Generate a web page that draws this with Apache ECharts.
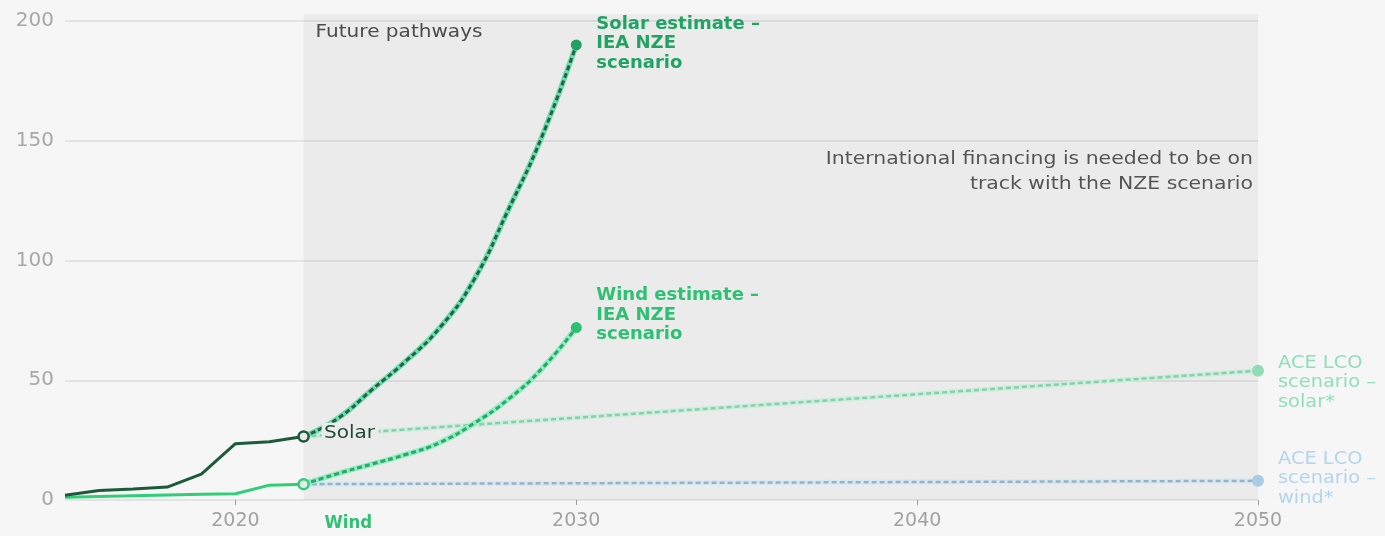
<!DOCTYPE html>
<html>
<head>
<meta charset="utf-8">
<title>Solar and wind capacity pathways</title>
<script src="https://cdn.jsdelivr.net/npm/echarts@6/dist/echarts.min.js"></script>
<style>
  html, body { margin: 0; padding: 0; background: #f6f6f6; }
  #chart { width: 1385px; height: 536px; }
</style>
</head>
<body>
<div id="chart"></div>
<script>
// Historical installed capacity
const histYears = [2015, 2016, 2017, 2018, 2019, 2020, 2021, 2022];
const solarHistory = [2, 4, 4.6, 5.4, 10.8, 23.5, 24.3, 26.5];
const windHistory = [1.2, 1.5, 1.8, 2.1, 2.4, 2.6, 6.2, 6.6];

// IEA NZE scenario estimates
const nzeYears = [2022, 2023, 2024, 2025, 2026, 2027, 2028, 2029, 2030];
const solarNZE = [26.5, 34, 46, 58, 72, 92, 121, 152, 190];
const windNZE = [6.6, 11, 15, 19, 24, 32, 42, 55, 72];

// ACE LCO scenario
const aceYears = [2022, 2050];
const aceSolar = [26.5, 54];
const aceWind = [6.6, 8];

// Axis ticks
const xTickYears = [2020, 2030, 2040, 2050];
const futureStart = 2022;
const futureEnd = 2050;

const FONT = '"DejaVu Sans", sans-serif';
const pairs = (xs, ys) => xs.map((x, i) => [x, ys[i]]);
const last = (xs, ys) => [[xs[xs.length - 1], ys[ys.length - 1]]];

const chart = echarts.init(document.getElementById('chart'), null, { renderer: 'canvas' });

function lineSeries(name, data, color, width, dashed, smooth, z) {
  return {
    name, type: 'line', data, z,
    symbol: 'none', smooth: smooth,
    silent: true, animation: false,
    lineStyle: { color, width, type: dashed ? [5, 3] : 'solid', cap: 'butt' }
  };
}

function dotSeries(name, data, fill, size, border, borderWidth, z) {
  return {
    name, type: 'scatter', data, z, symbol: 'circle', symbolSize: size,
    silent: true, animation: false,
    itemStyle: { color: fill, borderColor: border || fill, borderWidth: borderWidth || 0, opacity: 1 }
  };
}

const option = {
  backgroundColor: '#f6f6f6',
  animation: false,
  grid: { left: 65, right: 127, top: 21, bottom: 36, containLabel: false },
  xAxis: {
    type: 'value', min: 2015, max: 2050,
    axisLine: { show: false },
    splitLine: { show: false },
    axisTick: { show: true, customValues: xTickYears, length: 5, lineStyle: { color: '#9a9a9a', width: 1 } },
    axisLabel: {
      customValues: xTickYears, color: '#a2a2a2', fontFamily: FONT, fontSize: 19, margin: 12,
      formatter: v => String(v)
    }
  },
  yAxis: {
    type: 'value', min: 0, max: 200, interval: 50,
    axisLine: { show: false },
    axisTick: { show: false },
    splitLine: { lineStyle: { color: '#dddddd', width: 1.5 } },
    axisLabel: { color: '#a8a8a8', fontFamily: FONT, fontSize: 20, margin: 11 }
  },
  series: [
    // ACE LCO scenario lines
    lineSeries('ACE wind glow', pairs(aceYears, aceWind), '#d6e8f4', 5, false, false, 2),
    lineSeries('ACE wind', pairs(aceYears, aceWind), '#98b2c2', 2.5, true, false, 3),
    lineSeries('ACE solar glow', pairs(aceYears, aceSolar), '#cdeedd', 5, false, false, 2),
    lineSeries('ACE solar', pairs(aceYears, aceSolar), '#86d1ac', 2.5, true, false, 3),
    // IEA NZE scenario curves
    lineSeries('Wind NZE glow', pairs(nzeYears, windNZE), '#8eedc1', 5.5, false, 0.5, 4),
    lineSeries('Wind NZE', pairs(nzeYears, windNZE), '#2aa866', 3, true, 0.5, 5),
    lineSeries('Solar NZE glow', pairs(nzeYears, solarNZE), '#66dfaa', 5.5, false, 0.5, 4),
    lineSeries('Solar NZE', pairs(nzeYears, solarNZE), '#2b5f48', 3, true, 0.5, 5),
    // Historical lines
    lineSeries('Wind', pairs(histYears, windHistory), '#2fcf78', 3, false, false, 6),
    lineSeries('Solar', pairs(histYears, solarHistory), '#1d5a3b', 3, false, false, 7),
    // End points
    dotSeries('Solar 2022', last(histYears, solarHistory), '#e9e9e9', 10, '#1d5a3b', 2.5, 8),
    dotSeries('Wind 2022', last(histYears, windHistory), '#e9e9e9', 10, '#2fcf78', 2.5, 8),
    dotSeries('Solar NZE 2030', last(nzeYears, solarNZE), '#22a262', 11, null, 0, 8),
    dotSeries('Wind NZE 2030', last(nzeYears, windNZE), '#2dbf72', 11, null, 0, 8),
    dotSeries('ACE solar 2050', last(aceYears, aceSolar), '#8fdcb7', 12, null, 0, 8),
    dotSeries('ACE wind 2050', last(aceYears, aceWind), '#a9cbe3', 12, null, 0, 8)
  ]
};

chart.setOption(option);

// Annotations positioned from data coordinates
const px = (x, y) => chart.convertToPixel({ xAxisIndex: 0, yAxisIndex: 0 }, [x, y]);

function label(text, x, y, opts) {
  return {
    type: 'text', x, y, z: 20, silent: true,
    scaleX: opts.scaleX || 1.18,
    style: {
      text, x: 0, y: 0,
      fill: opts.color,
      fontFamily: FONT,
      fontSize: opts.size || 17,
      fontWeight: opts.weight || 'normal',
      align: opts.align || 'left',
      verticalAlign: 'middle',
      lineHeight: opts.lineHeight || 19.5,
      backgroundColor: opts.bg || 'transparent',
      padding: opts.padding || 0
    }
  };
}

const topLeft = px(futureStart, 200);
const bottomRight = px(futureEnd, 0);
const solarNow = px(histYears[histYears.length - 1], solarHistory[solarHistory.length - 1]);
const windNow = px(histYears[histYears.length - 1], 0);
const solarEnd = px(nzeYears[nzeYears.length - 1], solarNZE[solarNZE.length - 1]);
const windEnd = px(nzeYears[nzeYears.length - 1], windNZE[windNZE.length - 1]);
const aceSolarEnd = px(aceYears[1], aceSolar[1]);
const aceWindEnd = px(aceYears[1], aceWind[1]);

chart.setOption({
  graphic: [
    {
      type: 'rect', z: 1, silent: true,
      shape: { x: topLeft[0], y: topLeft[1] - 7, width: bottomRight[0] - topLeft[0], height: bottomRight[1] - topLeft[1] + 7 },
      style: { fill: 'rgba(0,0,0,0.045)' }
    },
    label('Future pathways', topLeft[0] + 12, topLeft[1] + 12, { color: '#4b4b4b' }),
    label('International financing is needed to be on\ntrack with the NZE scenario',
      bottomRight[0] - 5, 172, { color: '#555555', align: 'right', lineHeight: 25, scaleX: 1.2 }),
    label('Solar estimate –\nIEA NZE\nscenario', solarEnd[0] + 20, solarEnd[1] - 1,
      { color: '#21a463', weight: 'bold', scaleX: 1.06 }),
    label('Wind estimate –\nIEA NZE\nscenario', windEnd[0] + 20, windEnd[1] - 12,
      { color: '#2ec173', weight: 'bold', scaleX: 1.06 }),
    label('Solar', solarNow[0] + 18, solarNow[1] - 3,
      { color: '#1f4c35', scaleX: 1.18, bg: '#ebebeb', padding: [1, 3, 1, 2] }),
    label('Wind', windNow[0] + 21, windNow[1] + 23, { color: '#2fc271', weight: 'bold', size: 18, scaleX: 0.92 }),
    label('ACE LCO\nscenario –\nsolar*', aceSolarEnd[0] + 20, aceSolarEnd[1] + 12,
      { color: '#8fdfb9', scaleX: 1.14 }),
    label('ACE LCO\nscenario –\nwind*', aceWindEnd[0] + 20, aceWindEnd[1] - 2,
      { color: '#b3d5ee', scaleX: 1.14 })
  ]
});
</script>
</body>
</html>
